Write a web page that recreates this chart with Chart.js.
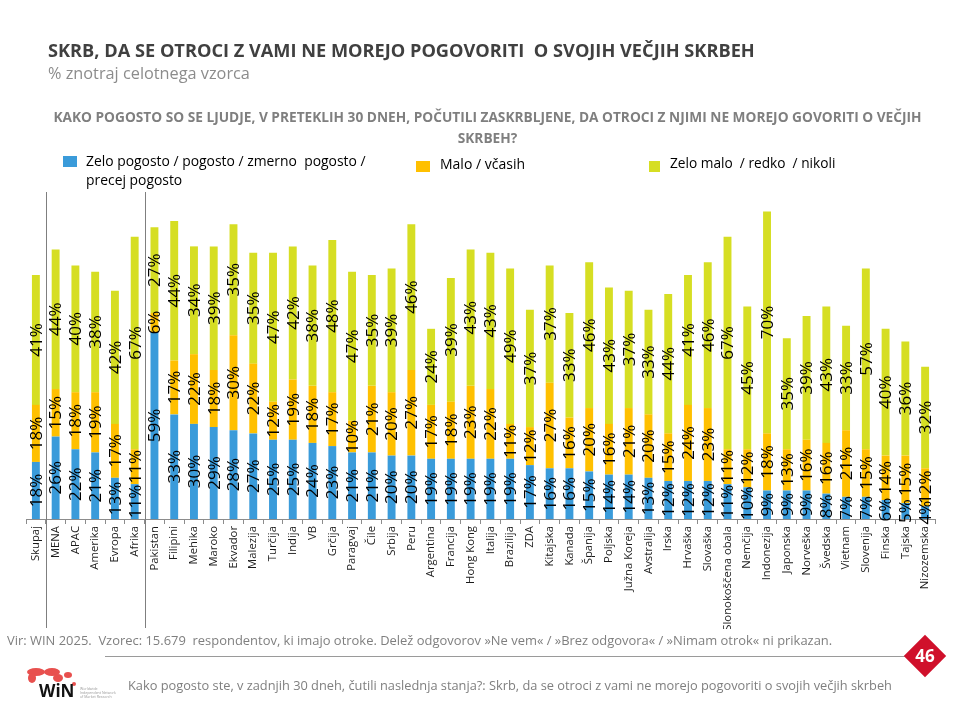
<!DOCTYPE html>
<html>
<head>
<meta charset="utf-8">
<script src="https://cdn.jsdelivr.net/npm/chart.js@4.4.1/dist/chart.umd.min.js"></script>
<style>
  body { margin: 0; width: 960px; height: 720px; position: relative; background: #fff; overflow: hidden; font-family: "Open Sans", sans-serif; }
  #chart { position: absolute; left: 0; top: 0; }
  .t { position: absolute; white-space: nowrap; line-height: 1; }
  .sq { position: absolute; }
</style>
</head>
<body>
<canvas id="chart" width="960" height="720"></canvas>

<div class="t" style="left:48px;top:41px;font-size:18.2px;font-weight:700;color:#404040">SKRB, DA SE OTROCI Z VAMI NE MOREJO POGOVORITI&nbsp; O SVOJIH VEČJIH SKRBEH</div>
<div class="t" style="left:48px;top:65px;font-size:16.3px;color:#8c8c8c">% znotraj celotnega vzorca</div>
<div class="t" style="left:40px;width:895px;top:106px;font-size:13.7px;font-weight:700;color:#7f7f7f;text-align:center;line-height:21px">KAKO POGOSTO SO SE LJUDJE, V PRETEKLIH 30 DNEH, POČUTILI ZASKRBLJENE, DA OTROCI Z NJIMI NE MOREJO GOVORITI O VEČJIH<br>SKRBEH?</div>

<div class="sq" style="left:63px;top:156px;width:14px;height:11px;background:#3A9BDA"></div>
<div class="t" style="left:86px;top:152px;font-size:13.9px;color:#000;line-height:18.5px">Zelo pogosto / pogosto / zmerno&nbsp; pogosto /<br>precej pogosto</div>
<div class="sq" style="left:416px;top:161px;width:14px;height:11px;background:#FFC000"></div>
<div class="t" style="left:440px;top:157px;font-size:14px;color:#000">Malo / včasih</div>
<div class="sq" style="left:649px;top:161px;width:11px;height:11px;background:#D6DE23"></div>
<div class="t" style="left:670px;top:156px;font-size:13.7px;color:#000">Zelo malo&nbsp; / redko&nbsp; / nikoli</div>

<div class="t" style="left:7px;top:634px;font-size:12.95px;color:#7f7f7f">Vir: WIN 2025.&nbsp; Vzorec: 15.679&nbsp; respondentov, ki imajo otroke. Delež odgovorov »Ne vem« / »Brez odgovora« / »Nimam otrok« ni prikazan.</div>
<div style="position:absolute;left:105px;top:656px;width:805px;height:1px;background:#9a9a9a"></div>
<div style="position:absolute;left:910px;top:641px;width:30px;height:30px;background:#D0102B;transform:rotate(45deg)"></div>
<div class="t" style="left:905px;top:647px;width:40px;text-align:center;font-size:17px;font-weight:700;color:#fff">46</div>
<div class="t" style="left:128px;top:679px;font-size:12.8px;color:#7f7f7f">Kako pogosto ste, v zadnjih 30 dneh, čutili naslednja stanja?: Skrb, da se otroci z vami ne morejo pogovoriti o svojih večjih skrbeh</div>

<svg style="position:absolute;left:22px;top:666px" width="100" height="36">
  <g fill="#E8504E">
    <ellipse cx="14" cy="6" rx="9" ry="4"/>
    <ellipse cx="10" cy="12" rx="4" ry="5"/>
    <ellipse cx="30" cy="6" rx="8" ry="4"/>
    <ellipse cx="36" cy="12" rx="5" ry="4"/>
    <ellipse cx="46" cy="9" rx="4" ry="3"/>
    <ellipse cx="52" cy="18" rx="2" ry="2"/>
  </g>
  <text x="17" y="31" font-family="Open Sans" font-weight="700" font-size="17" fill="#111">WiN</text>
  <g fill="#9a9a9a" font-family="Open Sans" font-size="3.5">
    <text x="58" y="24">Worldwide</text>
    <text x="58" y="28">Independent Network</text>
    <text x="58" y="32">of Market Research</text>
  </g>
</svg>

<script>
const categories = ['Skupaj', 'MENA', 'APAC', 'Amerika', 'Evropa', 'Afrika',
  'Pakistan', 'Filipini', 'Mehika', 'Maroko', 'Ekvador', 'Malezija', 'Turčija', 'Indija', 'VB', 'Grčija',
  'Paragvaj', 'Čile', 'Srbija', 'Peru', 'Argentina', 'Francija', 'Hong Kong', 'Italija', 'Brazilija', 'ZDA',
  'Kitajska', 'Kanada', 'Španija', 'Poljska', 'Južna Koreja', 'Avstralija', 'Irska', 'Hrvaška', 'Slovaška', 'Slonokoščena obala',
  'Nemčija', 'Indonezija', 'Japonska', 'Norveška', 'Švedska', 'Vietnam', 'Slovenija', 'Finska', 'Tajska', 'Nizozemska']

const seriesNames = ['Zelo pogosto / pogosto / zmerno pogosto / precej pogosto', 'Malo / včasih', 'Zelo malo / redko / nikoli']

const often = [18, 26, 22, 21, 13, 11,
  59, 33, 30, 29, 28, 27, 25, 25, 24, 23,
  21, 21, 20, 20, 19, 19, 19, 19, 19, 17,
  16, 16, 15, 14, 14, 13, 12, 12, 12, 11,
  10, 9, 9, 9, 8, 7, 7, 6, 5, 4]

const sometimes = [18, 15, 18, 19, 17, 11,
  6, 17, 22, 18, 30, 22, 12, 19, 18, 17,
  10, 21, 20, 27, 17, 18, 23, 22, 11, 12,
  27, 16, 20, 16, 21, 20, 15, 24, 23, 11,
  12, 18, 13, 16, 16, 21, 15, 14, 15, 12]

const rarely = [41, 44, 40, 38, 42, 67,
  27, 44, 34, 39, 35, 35, 47, 42, 38, 48,
  47, 35, 39, 46, 24, 39, 43, 43, 49, 37,
  37, 33, 46, 43, 37, 33, 44, 41, 46, 67,
  45, 70, 35, 39, 43, 33, 57, 40, 36, 32]

// group separators go in front of these categories (after Skupaj, after the regions)
const groupStarts = [1, 6]

const colors = ['#3A9BDA', '#FFC000', '#D6DE23']

// value labels, turned upright, centred in each segment
const segmentLabels = {
  id: 'segmentLabels',
  afterDatasetsDraw(chart) {
    const ctx = chart.ctx
    ctx.save()
    ctx.font = '17px "Open Sans"'
    ctx.fillStyle = '#000'
    ctx.textAlign = 'center'
    ctx.textBaseline = 'middle'
    chart.data.datasets.forEach((ds, i) => {
      chart.getDatasetMeta(i).data.forEach((bar, j) => {
        ctx.save()
        ctx.translate(bar.x, (bar.y + bar.base) / 2)
        ctx.rotate(-Math.PI / 2)
        ctx.fillText(ds.data[j] + '%', 0, 1)
        ctx.restore()
      })
    })
    ctx.restore()
  }
}

const groupLines = {
  id: 'groupLines',
  afterDraw(chart) {
    const x = chart.scales.x
    const area = chart.chartArea
    const ctx = chart.ctx
    ctx.save()
    ctx.strokeStyle = '#7f7f7f'
    ctx.lineWidth = 1
    groupStarts.forEach(i => {
      const px = Math.round((x.getPixelForValue(i - 1) + x.getPixelForValue(i)) / 2) + 0.5
      ctx.beginPath()
      ctx.moveTo(px, area.top - 10)
      ctx.lineTo(px, area.bottom + 109)
      ctx.stroke()
    })
    ctx.restore()
  }
}

new Chart(document.getElementById('chart'), {
  type: 'bar',
  data: {
    labels: categories,
    datasets: [often, sometimes, rarely].map((values, i) => ({
      label: seriesNames[i],
      data: values,
      backgroundColor: colors[i],
      barPercentage: 0.8,
      categoryPercentage: 0.5
    }))
  },
  options: {
    responsive: false,
    animation: false,
    layout: { padding: { top: 202, left: 26, right: 25, bottom: 91 } },
    plugins: {
      legend: { display: false },
      title: { display: false },
      tooltip: { enabled: false }
    },
    scales: {
      x: {
        stacked: true,
        offset: true,
        grid: { display: true, drawOnChartArea: false, tickLength: 5, color: '#8c8c8c', offset: true },
        border: { display: true, color: '#8c8c8c' },
        ticks: {
          autoSkip: false,
          minRotation: 90,
          maxRotation: 90,
          padding: 2,
          color: '#1a1a1a',
          font: { family: 'Open Sans', size: 11.3 }
        },
        afterFit(scale) { scale.height = 110 }
      },
      y: { stacked: true, display: false, min: 0, max: 100 }
    }
  },
  plugins: [segmentLabels, groupLines]
})
</script>
</body>
</html>
